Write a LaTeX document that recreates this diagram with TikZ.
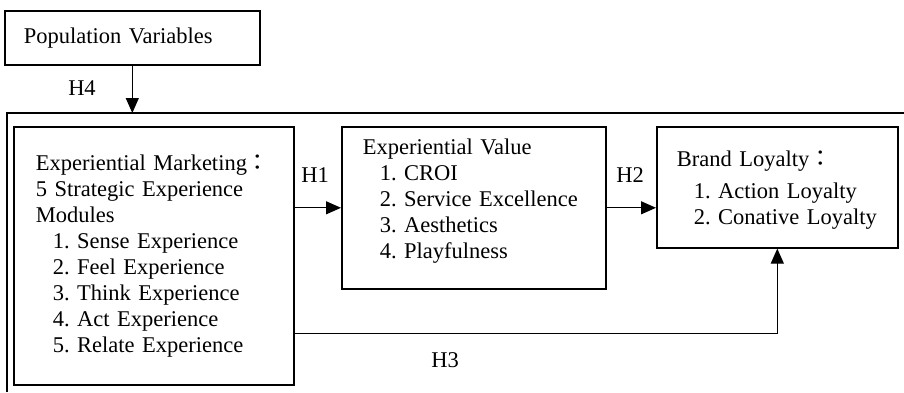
\documentclass[tikz,border=0pt]{standalone}
\usepackage{fontspec}
\setmainfont{Liberation Serif}
\newfontfamily\cjk{Noto Sans CJK TC}
\usetikzlibrary{arrows.meta}

\newcommand{\fwcolon}{{\cjk ：}}
\newcommand{\ind}{\hspace*{8.5pt}}

\begin{document}
\begin{tikzpicture}[x=0.5pt,y=-0.5pt,
  font=\fontsize{11.25}{13}\selectfont\frenchspacing,
  box/.style={draw,line width=0.8pt,anchor=north west,align=left,inner ysep=0pt},
  arr/.style={-{Triangle[length=7.5pt,width=6.5pt]},line width=0.6pt}]
\useasboundingbox (0,0) rectangle (904,392);
\draw[line width=1.3pt] (7,392) -- (7,113) coordinate (fr) -- (904,113);
\node[box,inner xsep=9.5pt,text width=108.5pt,minimum height=27pt] (pop) at (4,10)
  {Population Variables};
\node[box,inner xsep=11pt,text width=118pt,minimum height=129pt] (em) at (13,126)
  {Experiential Marketing\fwcolon\\
   5 Strategic Experience\\
   Modules\\
   \ind 1. Sense Experience\\
   \ind 2. Feel Experience\\
   \ind 3. Think Experience\\
   \ind 4. Act Experience\\
   \ind 5. Relate Experience};
\node[box,inner xsep=10.5pt,text width=111pt,minimum height=81pt] (ev) at (341,126)
  {Experiential Value\\
   \ind 1. CROI\\
   \ind 2. Service Excellence\\
   \ind 3. Aesthetics\\
   \ind 4. Playfulness\rule[-9pt]{0pt}{0pt}};
\node[box,inner xsep=10pt,text width=100.5pt,minimum height=60.5pt] (bl) at (656,126)
  {\rule{0pt}{11pt}Brand Loyalty\fwcolon\\[3pt]
   \ind 1. Action Loyalty\\
   \ind \mbox{2. Conative Loyalty}};
\node (h4) at (82,88) {H4};
\node (h1) at (315,175) {H1};
\node (h2) at (630,175) {H2};
\node (h3) at (445,360) {H3};
\draw[arr] (pop.south) -- (pop.south |- fr);
\draw[arr] (em.east |- ev.west) -- (ev.west);
\draw[arr] (ev.east) -- (ev.east -| bl.west);
\draw[arr] ([yshift=26pt]em.south east) -| (bl.south);
\end{tikzpicture}
\end{document}
